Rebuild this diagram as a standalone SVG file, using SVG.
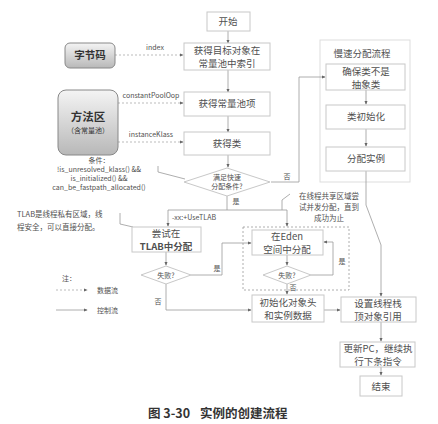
<svg xmlns="http://www.w3.org/2000/svg" width="438" height="424" viewBox="0 0 438 424">
<defs>
<linearGradient id="g" x1="0" y1="0" x2="0" y2="1">
<stop offset="0" stop-color="#f4f4f4"/><stop offset="1" stop-color="#b8b8b8"/>
</linearGradient>
<marker id="a" viewBox="0 0 6 6" refX="5" refY="3" markerWidth="5" markerHeight="5" orient="auto">
<path d="M0,0.5 L6,3 L0,5.5 z" fill="#666"/>
</marker>
<style>
text{font-family:"Noto Sans CJK SC","Liberation Sans",sans-serif;fill:#505050;text-anchor:middle}
.b{fill:#fff;stroke:#c8c8c8;stroke-width:1}
.r{fill:url(#g);stroke:#888;stroke-width:1}
.c{fill:none;stroke:#999;stroke-width:0.8;marker-end:url(#a)}
.n{fill:none;stroke:#999;stroke-width:0.8}
.d{fill:none;stroke:#aaa;stroke-width:0.8;stroke-dasharray:2,2;marker-end:url(#a)}
.t{font-size:9.5px}
.s{font-size:7px}
.l{font-size:7.5px}
</style>
</defs>
<rect width="438" height="424" fill="#fff"/>

<g id="slow">
<rect x="320" y="40" width="90" height="142" fill="#fff" stroke="#ddd"/>
<text x="362" y="57" class="t">慢速分配流程</text>
</g>
<g id="eden-group">
<rect x="243" y="227" width="106" height="63" fill="none" stroke="#999" stroke-width="0.8" stroke-dasharray="2,2"/>
</g>

<g id="connectors">
<path class="c" d="M228,31 V43"/>
<path class="c" d="M228,70 V92"/>
<path class="c" d="M228,116 V132"/>
<path class="c" d="M228,155 V167"/>
<path class="d" d="M115,55 H183"/>
<path class="d" d="M118,103 H183"/>
<path class="d" d="M118,142 H183"/>
<path class="c" d="M271,182 H299 V77 H325"/>
<path class="c" d="M366,90 V104"/>
<path class="c" d="M366,129 V146"/>
<path class="c" d="M366,171 V205 L381,245 V296"/>
<path class="n" d="M227,196 V210"/>
<path class="c" d="M227,210 H168 V226"/>
<path class="c" d="M227,210 H287 V226"/>
<path class="c" d="M166,252 V265"/>
<path class="c" d="M287,255 V265"/>
<path class="c" d="M311,275 H333 V242 H324"/>
<path class="c" d="M191,275 H222 V243 H251"/>
<path class="c" d="M166,284 V310 H251"/>
<path class="c" d="M287,284 V294"/>
<path class="c" d="M324,310 H340"/>
<path class="c" d="M381,322 V341"/>
<path class="c" d="M381,367 V375"/>
<path class="n" d="M158,166 V172 L185,179"/>
<path class="n" d="M120,213 V224 L133,227"/>
<path class="n" d="M282,210 V200 L290,194"/>
</g>

<g id="start"><rect class="b" x="207" y="12" width="43" height="19"/><text x="228" y="25" class="t">开始</text></g>
<g id="getIndex"><rect class="b" x="184" y="43" width="86" height="27"/><text x="227" y="54" class="t">获得目标对象在</text><text x="227" y="67" class="t">常量池中索引</text></g>
<g id="getPoolItem"><rect class="b" x="184" y="92" width="86" height="24"/><text x="227" y="107" class="t">获得常量池项</text></g>
<g id="getClass"><rect class="b" x="184" y="132" width="86" height="23"/><text x="227" y="147" class="t">获得类</text></g>
<g id="fastCond"><path class="b" d="M184,182 L227,168 L270,182 L227,196 z"/><text x="227" y="180" class="s">满足快速</text><text x="227" y="189" class="s">分配条件?</text></g>

<g id="bytecode"><rect class="r" x="65" y="43" width="50" height="25" rx="5"/><text x="90" y="59" style="font-size:10.5px;font-weight:bold;fill:#333">字节码</text></g>
<g id="methodArea"><rect class="r" x="58" y="90" width="60" height="65" rx="8"/><text x="88" y="121" style="font-size:11.5px;font-weight:bold;fill:#333">方法区</text><text x="88" y="133" style="font-size:7px;fill:#333">（含常量池）</text></g>

<g id="labels">
<text x="155" y="50" class="s">index</text>
<text x="151" y="98" class="s">constantPoolOop</text>
<text x="151" y="137" class="s">instanceKlass</text>
<text x="99" y="163" class="s">条件：</text>
<text x="99" y="172" class="s">!is_unresolved_klass() &amp;&amp;</text>
<text x="99" y="181" class="s">is_initialized() &amp;&amp;</text>
<text x="99" y="190" class="s">can_be_fastpath_allocated()</text>
<text x="17" y="217" class="l" style="text-anchor:start">TLAB是线程私有区域，线</text>
<text x="17" y="230" class="l" style="text-anchor:start">程安全，可以直接分配。</text>
<text x="194" y="220" class="s">-xx:+UseTLAB</text>
<text x="236" y="204" class="s">是</text>
<text x="287" y="179" class="s">否</text>
<text x="329" y="199" class="l">在线程共享区域尝</text>
<text x="329" y="210" class="l">试并发分配，直到</text>
<text x="329" y="221" class="l">成功为止</text>
<text x="217" y="271" class="s">是</text>
<text x="342" y="264" class="s">是</text>
<text x="158" y="304" class="s">否</text>
<text x="293" y="290" class="s">否</text>
</g>

<g id="slowSteps">
<g id="notAbstract"><rect class="b" x="326" y="64" width="79" height="26"/><text x="366" y="75" class="t">确保类不是</text><text x="366" y="88" class="t">抽象类</text></g>
<g id="classInit"><rect class="b" x="326" y="105" width="79" height="24"/><text x="366" y="120" class="t">类初始化</text></g>
<g id="allocInst"><rect class="b" x="326" y="147" width="79" height="24"/><text x="366" y="162" class="t">分配实例</text></g>
</g>

<g id="tlab"><rect class="b" x="132" y="227" width="69" height="25"/><text x="166" y="237" class="t">尝试在</text><text x="166" y="250" class="t" style="font-weight:bold">TLAB中分配</text></g>
<g id="tlabFail"><path class="b" d="M141,275 L166,266 L191,275 L166,284 z"/><text x="166" y="278" class="s">失败?</text></g>
<g id="eden"><rect class="b" x="252" y="230" width="71" height="25"/><text x="287" y="240" class="t">在Eden</text><text x="287" y="253" class="t">空间中分配</text></g>
<g id="edenFail"><path class="b" d="M263,275 L287,266 L311,275 L287,284 z"/><text x="287" y="278" class="s">失败?</text></g>
<g id="initObj"><rect class="b" x="252" y="295" width="72" height="27"/><text x="288" y="306" class="t">初始化对象头</text><text x="288" y="319" class="t">和实例数据</text></g>
<g id="setRef"><rect class="b" x="341" y="297" width="75" height="25"/><text x="378" y="307" class="t">设置线程栈</text><text x="378" y="320" class="t">顶对象引用</text></g>
<g id="updatePC"><rect class="b" x="340" y="342" width="75" height="25"/><text x="378" y="352" class="t">更新PC，继续执</text><text x="378" y="365" class="t">行下条指令</text></g>
<g id="end"><rect class="b" x="360" y="376" width="42" height="20"/><text x="381" y="390" class="t">结束</text></g>

<g id="legend">
<text x="62" y="281" class="s" style="text-anchor:start">注：</text>
<path class="d" d="M56,290 H87"/>
<text x="97" y="293" class="s" style="text-anchor:start">数据流</text>
<path class="c" d="M56,310 H87"/>
<text x="97" y="313" class="s" style="text-anchor:start">控制流</text>
</g>

<text x="148" y="418" style="font-size:12.5px;font-weight:bold;fill:#333;text-anchor:start">图 3-30</text>
<text x="200" y="418" style="font-size:12.5px;font-weight:bold;fill:#333;text-anchor:start">实例的创建流程</text>
</svg>
